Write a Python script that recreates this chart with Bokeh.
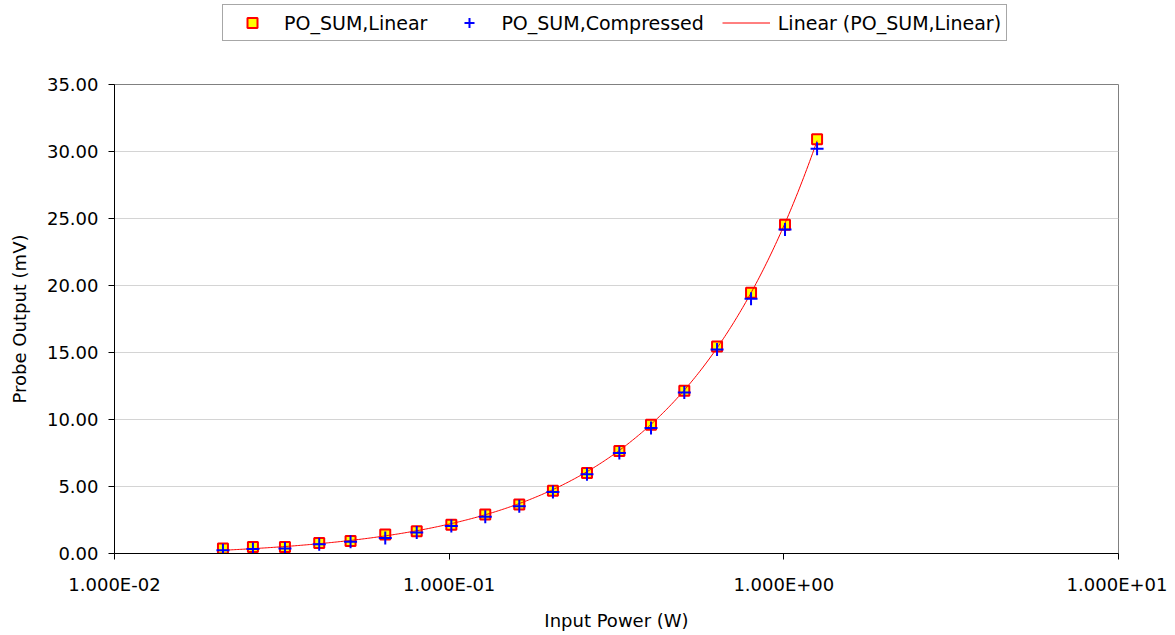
import numpy as np
from bokeh.plotting import figure
from bokeh.layouts import column
from bokeh.models import (Range1d, FixedTicker, NumeralTickFormatter, CustomJSTickFormatter,
                          Legend, LegendItem, ColumnDataSource)
from bokeh.embed import file_html
from bokeh.resources import INLINE

# ---- data ----
input_power_w = [0.02109, 0.02592, 0.03231, 0.04090, 0.05074, 0.06442, 0.08000, 0.1015, 0.1282,
                 0.1620, 0.2042, 0.2581, 0.3225, 0.4010, 0.5042, 0.6316, 0.7980, 1.008, 1.257]
po_sum_linear = [0.37, 0.49, 0.49, 0.79, 0.94, 1.42, 1.66, 2.15, 2.91,
                 3.66, 4.69, 6.01, 7.65, 9.60, 12.15, 15.45, 19.46, 24.53, 30.92]
po_sum_compressed = [0.25, 0.34, 0.37, 0.69, 0.87, 1.16, 1.57, 2.06, 2.74,
                     3.53, 4.59, 5.91, 7.50, 9.37, 12.02, 15.23, 19.02, 24.18, 30.20]
x_ticks = [0.01, 0.1, 1, 10]
y_ticks = [0, 5, 10, 15, 20, 25, 30, 35]
series_names = ["PO_SUM,Linear", "PO_SUM,Compressed", "Linear (PO_SUM,Linear)"]

FONT = "DejaVu Sans"
SQ = dict(marker="square", fill_color="#ffff00", line_color="#ff0000", line_width=2)
PL = dict(marker="cross", line_color="#0000ff", line_width=2)
TR = dict(line_color="#ff0000", line_width=1)

# linear trendline (least squares fit of the Linear series)
slope, intercept = np.polyfit(np.array(input_power_w), np.array(po_sum_linear), 1)
trend_x = np.geomspace(min(input_power_w), max(input_power_w), 400)
trend_y = slope * trend_x + intercept

W = 1167
LEG_H = 48
MAIN_H = 585
BL, BR = 114, 49

# ---------------- main chart ----------------
p = figure(width=W, height=MAIN_H, x_axis_type="log",
           x_range=Range1d(x_ticks[0], x_ticks[-1]), y_range=Range1d(y_ticks[0], y_ticks[-1]),
           output_backend="svg", toolbar_location=None,
           min_border_left=BL, min_border_right=BR, min_border_top=36, min_border_bottom=80)

p.background_fill_color = "white"
p.border_fill_color = "white"
p.outline_line_color = "#808080"
p.outline_line_width = 1
p.xgrid.grid_line_color = None
p.ygrid.grid_line_color = "#d4d4d4"
p.ygrid.grid_line_width = 1

src_lin = ColumnDataSource(dict(x=input_power_w, y=po_sum_linear))
src_cmp = ColumnDataSource(dict(x=input_power_w, y=po_sum_compressed))
src_tr = ColumnDataSource(dict(x=trend_x, y=trend_y))

p.scatter("x", "y", source=src_lin, size=10, **SQ)
p.line("x", "y", source=src_tr, **TR)
p.scatter("x", "y", source=src_cmp, size=13, **PL)

for ax in (p.xaxis[0], p.yaxis[0]):
    ax.axis_line_color = "black"
    ax.axis_line_width = 1
    ax.major_tick_line_color = "black"
    ax.major_tick_in = 0
    ax.major_tick_out = 6
    ax.minor_tick_line_color = None
    ax.major_label_text_font = FONT
    ax.major_label_text_font_size = "18px"
    ax.major_label_text_color = "black"
    ax.axis_label_text_font = FONT
    ax.axis_label_text_font_size = "18px"
    ax.axis_label_text_font_style = "normal"
    ax.axis_label_text_color = "black"

p.xaxis.ticker = FixedTicker(ticks=x_ticks)
p.xaxis.formatter = CustomJSTickFormatter(code="""
    const s = tick.toExponential(3).toUpperCase();
    const parts = s.split('E');
    const e = parts[1];
    const sign = e[0];
    const d = e.slice(1).padStart(2, '0');
    return parts[0] + 'E' + sign + d;
""")
p.xaxis.axis_label = "Input Power (W)"
p.xaxis.major_label_standoff = 14
p.xaxis.axis_label_standoff = 12

p.yaxis.ticker = FixedTicker(ticks=y_ticks)
p.yaxis.formatter = NumeralTickFormatter(format="0.00")
p.yaxis.axis_label = "Probe Output (mV)"
p.yaxis.major_label_standoff = 10
p.yaxis.axis_label_standoff = 14

# ---------------- legend strip ----------------
lg = figure(width=W, height=LEG_H, x_range=Range1d(0, 1), y_range=Range1d(0, 1),
            output_backend="svg", toolbar_location=None,
            x_axis_location=None, y_axis_location=None,
            min_border_left=BL, min_border_right=BR, min_border_top=0, min_border_bottom=0)
lg.outline_line_color = None
lg.xgrid.grid_line_color = None
lg.ygrid.grid_line_color = None
lg.background_fill_color = "white"
lg.border_fill_color = "white"

# off-range placeholder renderers that only carry the legend styles
hidden = dict(x=[-5], y=[-5])
d_sq = lg.scatter("x", "y", source=ColumnDataSource(hidden), size=10, **SQ)
d_pl = lg.scatter("x", "y", source=ColumnDataSource(hidden), size=13, **PL)
d_tr = lg.line("x", "y", source=ColumnDataSource(dict(x=[-5, -4], y=[-5, -5])), **TR)

legend = Legend(items=[LegendItem(label=series_names[0], renderers=[d_sq]),
                       LegendItem(label=series_names[1], renderers=[d_pl]),
                       LegendItem(label=series_names[2], renderers=[d_tr])],
                orientation="horizontal", location=(222 - BL, 7))
legend.label_text_font = FONT
legend.label_text_font_size = "19px"
legend.label_text_color = "black"
legend.border_line_color = "#505050"
legend.border_line_width = 1
legend.background_fill_color = "white"
legend.background_fill_alpha = 1
legend.padding = 5
legend.margin = 0
legend.spacing = 18
legend.glyph_width = 48
legend.glyph_height = 25
legend.label_height = 25
legend.label_standoff = 8
lg.add_layout(legend, "center")

layout = column(lg, p, spacing=0)
open("out.html", "w").write(file_html(layout, INLINE))
